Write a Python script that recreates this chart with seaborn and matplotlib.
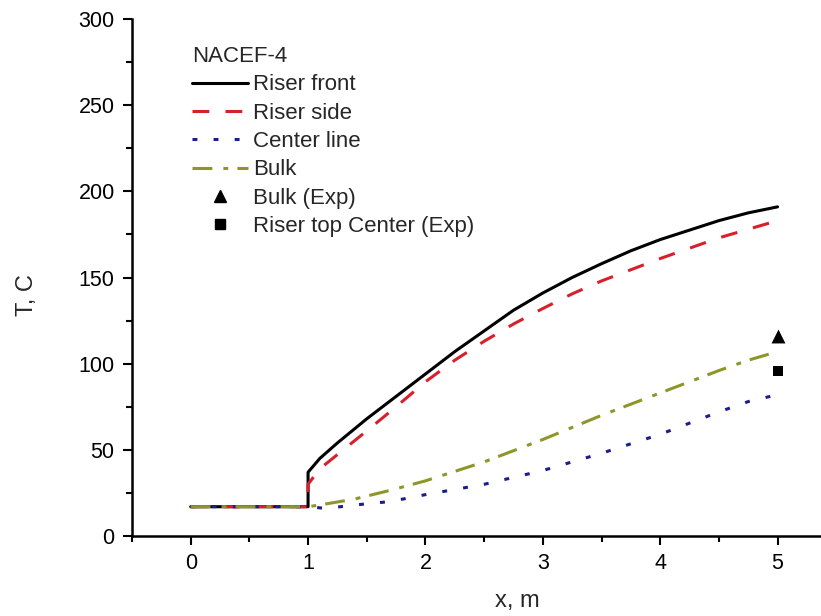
import matplotlib
matplotlib.use("Agg")
import matplotlib.pyplot as plt
from matplotlib.lines import Line2D
from matplotlib.ticker import MultipleLocator
import seaborn as sns

# Temperature profiles along the riser, NACEF-4 case
x_front = [0, 1, 1, 1.1, 1.25, 1.5, 1.75, 2, 2.25, 2.5, 2.75, 3, 3.25, 3.5, 3.75, 4, 4.25, 4.5, 4.75, 5]
t_front = [17, 17, 37, 45, 54, 68, 81, 94, 107, 119, 131, 141, 150, 158, 165.5, 172, 177.5, 183, 187.5, 191]

x_side = [0, 1, 1, 1.1, 1.3, 1.5, 1.75, 2, 2.25, 2.5, 2.75, 3, 3.25, 3.5, 3.75, 4, 4.25, 4.5, 4.75, 5]
t_side = [17, 17, 30, 39, 50, 61, 75, 89.5, 102, 113, 123, 132, 140.5, 148, 154.5, 161, 167, 173, 178, 183]

x_center = [0, 1, 1.15, 1.4, 1.7, 2, 2.25, 2.5, 2.75, 3, 3.25, 3.5, 3.75, 4, 4.25, 4.5, 4.75, 5]
t_center = [17, 17, 16, 18, 20, 24, 27, 30, 34, 38, 43, 48, 53.5, 59, 65.5, 72, 78, 82]

x_bulk = [0, 1, 1.1, 1.4, 1.7, 2, 2.25, 2.5, 2.75, 3, 3.25, 3.5, 3.75, 4, 4.25, 4.5, 4.75, 5]
t_bulk = [17, 17, 18, 21.5, 26.5, 32, 37.5, 43, 49.5, 56, 63, 70, 76.5, 83, 89.5, 96, 102, 107]

x_exp = [5]
t_bulk_exp = [116]
t_riser_top_exp = [96]

legend_title = "NACEF-4"
series_labels = ["Riser front", "Riser side", "Center line", "Bulk"]
exp_labels = ["Bulk (Exp)", "Riser top Center (Exp)"]

sns.set_style("ticks")
plt.rcParams["font.family"] = ["Liberation Sans", "DejaVu Sans"]

fig = plt.figure(figsize=(8.21, 6.16), dpi=100)
ax = fig.add_axes([132 / 821, 80 / 616, 689 / 821, 517 / 616])

lw = 2.2
c_front, c_side, c_center, c_bulk = "#000000", "#d8202c", "#1c1c8c", "#8e962a"
styles = [
    (x_front, t_front, c_front, "-"),
    (x_side, t_side, c_side, (0, (5.5, 5.3))),
    (x_center, t_center, c_center, (0, (1.6, 5.3))),
    (x_bulk, t_bulk, c_bulk, (0, (6.5, 3.6, 1.6, 3.0))),
]
handles = []
for (xs, ts, col, ls), lab in zip(styles, series_labels):
    sns.lineplot(x=xs, y=ts, ax=ax, color=col, linestyle=ls, linewidth=lw,
                 estimator=None, sort=False)
    handles.append(Line2D([], [], color=col, linestyle=ls, linewidth=lw, label=lab))

sns.scatterplot(x=x_exp, y=t_bulk_exp, ax=ax, marker="^", s=100, color="black",
                edgecolor="black", linewidth=0, zorder=5)
sns.scatterplot(x=x_exp, y=t_riser_top_exp, ax=ax, marker="s", s=60, color="black",
                edgecolor="black", linewidth=0, zorder=5)
handles.append(Line2D([], [], marker="^", markersize=9, color="black", linestyle="none",
                      label=exp_labels[0]))
handles.append(Line2D([], [], marker="s", markersize=7.5, color="black", linestyle="none",
                      label=exp_labels[1]))

ax.set_xlim(-0.5, 5.37)
ax.set_ylim(0, 300)
ax.xaxis.set_major_locator(MultipleLocator(1))
ax.xaxis.set_minor_locator(MultipleLocator(0.5))
ax.yaxis.set_major_locator(MultipleLocator(50))
ax.yaxis.set_minor_locator(MultipleLocator(25))
ax.set_xticks([0, 1, 2, 3, 4, 5])

for side in ("top", "right"):
    ax.spines[side].set_visible(False)
for side in ("left", "bottom"):
    ax.spines[side].set_linewidth(1.8)
    ax.spines[side].set_color("black")

ax.tick_params(which="major", direction="out", length=6.5, width=1.5, colors="black",
               labelsize=15.5, pad=6)
ax.tick_params(which="minor", direction="out", length=4.5, width=1.5, colors="black")

ax.set_xlabel("x, m", fontsize=17)
ax.set_ylabel("T, C", fontsize=17)
ax.xaxis.set_label_coords((517 - 132) / 689, -0.104)
ax.yaxis.set_label_coords(-(132 - 38) / 689, 0.466)

leg = ax.legend(handles=handles, title=legend_title, loc="upper left",
                bbox_to_anchor=(192 / 821, 1 - 46 / 616), bbox_transform=fig.transFigure,
                frameon=False, fontsize=16, title_fontsize=16, handlelength=2.5,
                handletextpad=0.23, labelspacing=0.33, borderpad=0, borderaxespad=0,
                alignment="left")

fig.savefig("out.png", dpi=100)
